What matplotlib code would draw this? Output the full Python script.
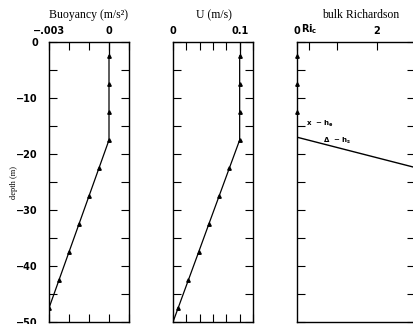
import matplotlib.pyplot as plt
import matplotlib.ticker as mticker

# profile values at cell centres (every 5 m)
depth_mid = [-2.5, -7.5, -12.5, -17.5, -22.5, -27.5, -32.5, -37.5, -42.5, -47.5]
buoy = [0.0, 0.0, 0.0, 0.0, -0.0005, -0.001, -0.0015, -0.002, -0.0025, -0.003]
u_vel = [0.1, 0.1, 0.1, 0.1, 0.0846, 0.0692, 0.0538, 0.0385, 0.0231, 0.0077]

# bulk Richardson number
ri_depth = [0.0, -2.5, -7.5, -12.5, -17.0, -22.5]
ri_val = [0.0, 0.0, 0.0, 0.0, 0.0, 3.0]
ri_mark_depth = [-2.5, -7.5, -12.5]
ri_mark_val = [0.0, 0.0, 0.0]
ri_crit = 0.3

depth_ticks = list(range(-50, 1, 5))
depth_labels = ['\u221250', '', '\u221240', '', '\u221230', '', '\u221220', '', '\u221210', '', '0']

plt.rcParams['font.family'] = 'DejaVu Sans'
plt.rcParams['font.weight'] = 'bold'

W, H = 414, 324
fig = plt.figure(figsize=(W / 100, H / 100), dpi=100)

serif = 'Liberation Serif'


def px_axes(x0, x1, ytop, ybot):
    return fig.add_axes([x0 / W, 1 - ybot / H, (x1 - x0) / W, (ybot - ytop) / H])


def style(ax):
    for s in ax.spines.values():
        s.set_linewidth(1.0)
    ax.tick_params(direction='in', length=6, width=0.8, top=True, right=True,
                   labeltop=True, labelbottom=False, pad=4, labelsize=7)
    ax.set_ylim(-50, 0)
    ax.yaxis.set_major_locator(mticker.FixedLocator(depth_ticks))
    ax.yaxis.set_major_formatter(mticker.NullFormatter())


ax1 = px_axes(49, 129, 42, 322)
ax2 = px_axes(173, 253, 42, 322)
ax3 = px_axes(297, 415, 42, 322)

# buoyancy
ax1.plot(buoy, depth_mid, color='black', lw=0.9, marker='^', ms=2.5)
ax1.plot([buoy[0], buoy[0]], [0, depth_mid[0]], color='black', lw=0.9)
ax1.set_xlim(-0.003, 0.001)
ax1.xaxis.set_major_locator(mticker.FixedLocator([-0.003, -0.002, -0.001, 0.0, 0.001]))
ax1.xaxis.set_major_formatter(mticker.FixedFormatter(['\u2212.003', '', '', '0', '']))
style(ax1)
ax1.yaxis.set_major_formatter(mticker.FixedFormatter(depth_labels))
ax1.tick_params(axis='y', pad=8)
fig.text(14 / W, 1 - 182 / H, 'depth (m)', fontfamily=serif, fontweight='normal',
         fontsize=6, rotation=90, ha='center', va='center')

# velocity
ax2.plot(u_vel, depth_mid, color='black', lw=0.9, marker='^', ms=2.5)
ax2.plot([u_vel[0], u_vel[0]], [0, depth_mid[0]], color='black', lw=0.9)
ax2.plot([u_vel[-1], 0.0], [depth_mid[-1], -50], color='black', lw=0.9)
ax2.set_xlim(0, 0.12)
ax2.xaxis.set_major_locator(mticker.FixedLocator([0, 0.02, 0.04, 0.06, 0.08, 0.1, 0.12]))
ax2.xaxis.set_major_formatter(mticker.FixedFormatter(['0', '', '', '', '', '0.1', '']))
style(ax2)

# bulk Richardson
ax3.plot(ri_val, ri_depth, color='black', lw=1.0)
ax3.plot(ri_mark_val, ri_mark_depth, ls='none', color='black', marker='^', ms=2.5, clip_on=False)
ax3.set_xlim(0, 2.95)
ax3.xaxis.set_major_locator(mticker.FixedLocator([0, ri_crit, 1, 2]))
ax3.xaxis.set_major_formatter(mticker.FixedFormatter(['0', r'$\mathbf{Ri_c}$', '', '2']))
style(ax3)
ax3.tick_params(axis='x', bottom=False)
ax3.xaxis.set_minor_locator(mticker.FixedLocator([1, 2]))
ax3.tick_params(axis='x', which='minor', direction='in', length=6, width=0.8,
                bottom=True, top=False)
ax3.text(0.22, -14.6, r'x  $-$ $\mathbf{h_e}$', fontsize=5, va='center')
ax3.text(0.65, -17.7, r'$\Delta$  $-$ $\mathbf{h_s}$', fontsize=5, va='center')

# titles
for xc, title in [(89, 'Buoyancy (m/s\u00b2)'), (214, 'U (m/s)'), (361, 'bulk Richardson')]:
    fig.text(xc / W, 1 - 15 / H, title, fontfamily=serif, fontweight='normal',
             fontsize=8.5, ha='center', va='center')

fig.savefig('out.png', dpi=100)
